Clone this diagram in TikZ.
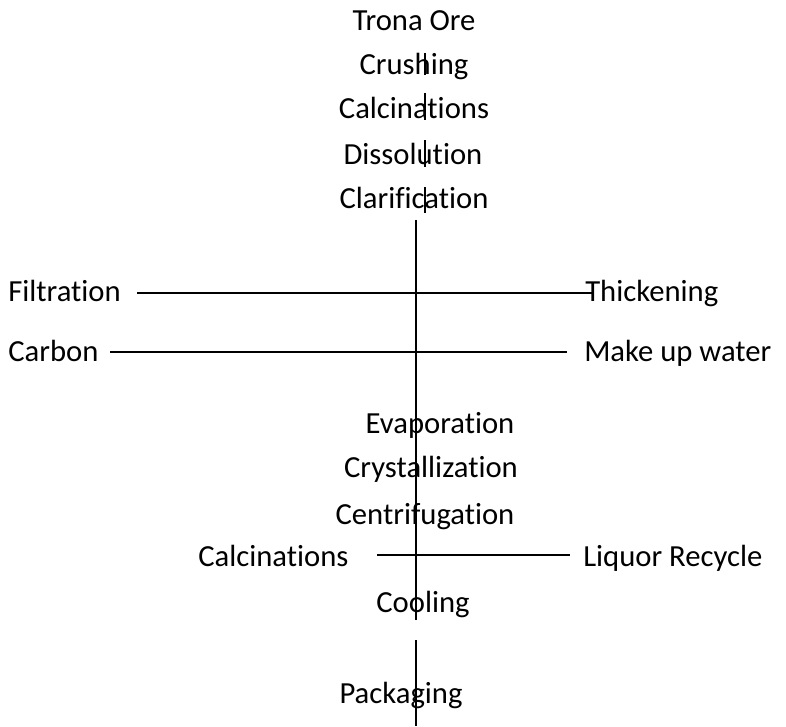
\documentclass[tikz,border=0pt]{standalone}
\usepackage{fontspec}
\setmainfont[Ligatures={NoCommon}]{Carlito}
\tikzset{
  step label/.style={inner sep=0pt, font=\fontsize{23}{27}\selectfont},
  flow line/.style={line width=1.4pt}
}
\begin{document}
\begin{tikzpicture}[x=0.75pt, y=-0.75pt]
    \useasboundingbox (0, 0) rectangle (786, 726);

    % Draw nodes for the main stream (top)
    \node[step label, anchor=base] (ore) at (414, 30) {Trona Ore};
    \node[step label, anchor=base] (crush) at (414, 74) {Crushing};
    \node[step label, anchor=base] (calc1) at (414, 118) {Calcinations};
    \node[step label, anchor=base] (diss) at (413, 164) {Dissolution};
    \node[step label, anchor=base] (clar) at (414, 208) {Clarification};

    % Draw nodes for the side streams
    \node[step label, anchor=base west] (filt) at (8, 301) {Filtration};
    \node[step label, anchor=base west] (thick) at (585, 301) {Thickening};
    \node[step label, anchor=base west] (carb) at (8, 361) {Carbon};
    \node[step label, anchor=base west] (water) at (584, 361) {Make up water};

    % Draw nodes for the main stream (bottom)
    \node[step label, anchor=base] (evap) at (440, 433) {Evaporation};
    \node[step label, anchor=base] (cryst) at (431, 477) {Crystallization};
    \node[step label, anchor=base] (centr) at (425, 524) {Centrifugation};
    \node[step label, anchor=base west] (calc2) at (198, 566) {Calcinations};
    \node[step label, anchor=base west] (liq) at (583, 566) {Liquor Recycle};
    \node[step label, anchor=base] (cool) at (423, 612) {Cooling};
    \node[step label, anchor=base] (pack) at (401, 703) {Packaging};

    % Free ends of the lines
    \coordinate (s1a) at (425, 53);  \coordinate (s1b) at (425, 75);
    \coordinate (s2a) at (425, 93);  \coordinate (s2b) at (425, 120);
    \coordinate (s3a) at (425, 140); \coordinate (s3b) at (425, 167);
    \coordinate (s4a) at (425, 187); \coordinate (s4b) at (425, 213);
    \coordinate (vtop) at (416, 220);  \coordinate (vbot) at (416, 620);
    \coordinate (ptop) at (416, 640);  \coordinate (pbot) at (416, 726);
    \coordinate (filtL) at (137, 293); \coordinate (filtR) at (592, 293);
    \coordinate (carbL) at (110, 352); \coordinate (carbR) at (567, 352);
    \coordinate (liqL) at (377, 555);  \coordinate (liqR) at (570, 555);

    % Draw the short links through the top steps
    \draw[flow line] (s1a) -- (s1b); % Crushing
    \draw[flow line] (s2a) -- (s2b); % Calcinations
    \draw[flow line] (s3a) -- (s3b); % Dissolution
    \draw[flow line] (s4a) -- (s4b); % Clarification

    % Draw the main vertical line
    \draw[flow line] (vtop) -- (vbot);
    \draw[flow line] (ptop) -- (pbot); % Cooling to Packaging

    % Draw the side lines
    \draw[flow line] (filtL) -- (filtR); % Filtration and Thickening
    \draw[flow line] (carbL) -- (carbR); % Carbon and Make up water
    \draw[flow line] (liqL) -- (liqR); % Calcinations and Liquor Recycle
\end{tikzpicture}
\end{document}
